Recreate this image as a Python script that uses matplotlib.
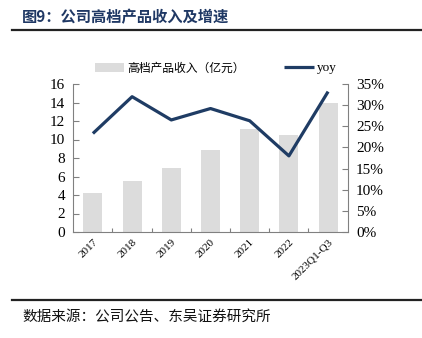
import matplotlib as mpl
import matplotlib.pyplot as plt
from matplotlib.ticker import FuncFormatter

# data
years = ['2017', '2018', '2019', '2020', '2021', '2022', '2023Q1-Q3']
revenue = [4.2, 5.5, 6.9, 8.85, 11.1, 10.5, 13.95]
yoy = [23.3, 32.0, 26.5, 29.2, 26.3, 18.0, 33.2]

dpi = 100
fig = plt.figure(dpi=dpi, figsize=(422 / dpi, 338 / dpi))
mpl.rcParams.update({'font.size': 11})
cjk = ['Noto Sans CJK SC', 'DejaVu Sans']
serif = ['Liberation Serif', 'DejaVu Serif']

bar_color = '#DCDCDC'
line_color = '#1F3C64'
spine_color = '#808080'

ax = fig.add_axes([73.3 / 422, 1 - 232 / 338, (347.7 - 73.3) / 422, (232 - 84) / 338])
ax2 = ax.twinx()

x = list(range(len(years)))
bars = ax.bar(x, revenue, width=0.48, color=bar_color, zorder=1,
              label='高档产品收入（亿元）')
line, = ax2.plot(x, yoy, color=line_color, linewidth=2.3,
                 solid_capstyle='butt', label='yoy')

ax.set_xlim(-0.5, len(years) - 0.5)
ax.set_ylim(0, 16)
ax.set_yticks(range(0, 17, 2))
ax2.set_ylim(0, 35)
ax2.set_yticks(range(0, 36, 5))
ax2.yaxis.set_major_formatter(FuncFormatter(lambda v, p: '%d%%' % v))

# category ticks between bars, labels under bars
ax.set_xticks([i + 0.5 for i in x[:-1]])
ax.set_xticklabels([])
ax.set_xticks(x, minor=True)
ax.set_xticklabels(years, minor=True, rotation=45, ha='right',
                   rotation_mode='anchor', fontsize=8, family=serif)
ax.tick_params(axis='x', which='minor', length=0, pad=4)
ax.tick_params(axis='x', which='major', direction='in', length=3, color=spine_color)

for a in (ax, ax2):
    a.spines['top'].set_visible(False)
    for s in ('left', 'right', 'bottom'):
        a.spines[s].set_color(spine_color)
        a.spines[s].set_linewidth(0.8)
ax.spines['right'].set_visible(False)
ax2.spines['left'].set_visible(False)
ax2.spines['bottom'].set_visible(False)

ax.tick_params(axis='y', direction='in', length=4, color=spine_color,
               labelsize=11, pad=6)
ax2.tick_params(axis='y', direction='in', length=4, color=spine_color,
                labelsize=11, pad=6)
for lab in ax.get_yticklabels() + ax2.get_yticklabels():
    lab.set_family(serif)

leg = fig.legend([bars, line], ['高档产品收入（亿元）', 'yoy'], loc='center left',
                 bbox_to_anchor=(84 / 422, 1 - 68 / 338), ncol=2, frameon=False,
                 handlelength=2.5, handletextpad=0.3, columnspacing=3.3,
                 prop={'family': cjk, 'size': 8.5})
leg.get_texts()[1].set_family(serif)
leg.get_texts()[1].set_fontsize(9.5)

# title and source
fig.text(22 / 422, 1 - 17 / 338, '图9：公司高档产品收入及增速', family=cjk,
         fontsize=11, fontweight='bold', color='#1F3864', va='center')
fig.add_artist(plt.Line2D([12 / 422, 1], [1 - 30 / 338] * 2, color='#222222', linewidth=1.6))
fig.add_artist(plt.Line2D([12 / 422, 1], [1 - 300 / 338] * 2, color='#222222', linewidth=1.6))
fig.text(22 / 422, 1 - 318 / 338, '数据来源：公司公告、东吴证券研究所', family=cjk,
         fontsize=10.5, color='#111111', va='center')

plt.savefig('out.png', dpi=dpi)
